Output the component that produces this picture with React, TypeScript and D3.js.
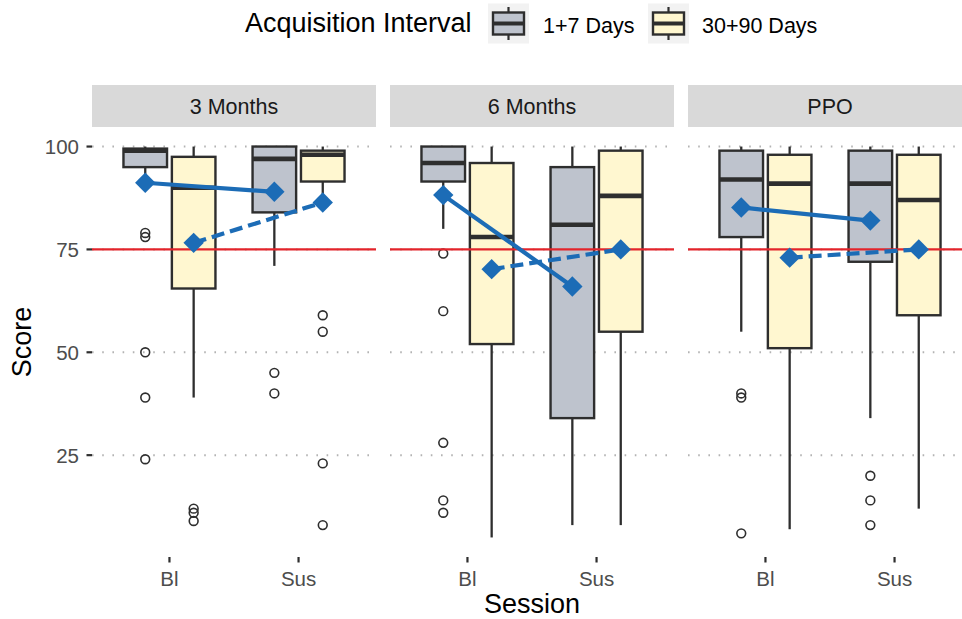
import React from "react";
import * as d3 from "d3";

// ---------- data ----------
const PANELS = ["3 Months", "6 Months", "PPO"];
const SESSIONS = ["Bl", "Sus"];
const GROUPS = ["1+7 Days", "30+90 Days"];
const Y_TICKS = [25, 50, 75, 100];
const THRESHOLD = 75;

// order: 3M-Bl, 3M-Sus, 6M-Bl, 6M-Sus, PPO-Bl, PPO-Sus
// group "1+7 Days"
const G1_LOW = [92, 71, 80, 8, 55, 34];
const G1_Q1 = [95, 84, 91.5, 34, 78, 72];
const G1_MED = [99, 97, 96, 81, 92, 91];
const G1_Q3 = [99.5, 100, 100, 95, 99, 99];
const G1_HIGH = [100, 100, 100, 100, 100, 100];
const G1_MEAN = [91.2, 89, 88.2, 66, 85.2, 82];
const G1_OUT = [[79, 78, 50, 39, 24], [45, 40], [74, 60, 28, 14, 11], [], [40, 39, 6], [20, 14, 8]];

// group "30+90 Days"
const G2_LOW = [39, 87, 5, 8, 7, 12];
const G2_Q1 = [65.5, 91.5, 52, 55, 51, 59];
const G2_MED = [90, 98, 78, 88, 91, 87];
const G2_Q3 = [97.5, 99, 96, 99, 98, 98];
const G2_HIGH = [100, 100, 100, 100, 100, 100];
const G2_MEAN = [76.6, 86.4, 70.2, 75, 73, 75];
const G2_OUT = [[12, 11, 9], [59, 55, 23, 8], [], [], [], []];

// ---------- styling / layout ----------
const W = 962, H = 619;
const FONT = "'Liberation Sans', Arial, Helvetica, sans-serif";
const FILLS = ["#bec3cd", "#fff7d0"];
const BLUE = "#1c6cb6";
const RED = "#e3242b";
const LINE = "#2e2e2e";
const PANEL_X0 = [92, 390, 688];
const PANEL_W = 284;
const PLOT_TOP = 127, PLOT_BOTTOM = 557;
const STRIP_TOP = 85;

const groupStats = [
  { low: G1_LOW, q1: G1_Q1, med: G1_MED, q3: G1_Q3, high: G1_HIGH, mean: G1_MEAN, out: G1_OUT },
  { low: G2_LOW, q1: G2_Q1, med: G2_MED, q3: G2_Q3, high: G2_HIGH, mean: G2_MEAN, out: G2_OUT },
];

export default function App() {
  const y = d3.scaleLinear().domain([0.25, 104.75]).range([PLOT_BOTTOM, PLOT_TOP]);

  const panels = PANELS.map((p, pi) => {
    const x0 = PANEL_X0[pi];
    const x = d3.scalePoint<string>().domain(SESSIONS).range([x0, x0 + PANEL_W]).padding(0.6);
    const step = x.step();
    const dodge = d3.scaleBand<string>().domain(GROUPS).range([-0.375 * step, 0.375 * step]);
    const bw = dodge.bandwidth() * 0.9;
    const cx = (s: string, g: string) => (x(s) as number) + (dodge(g) as number) + dodge.bandwidth() / 2;

    const gridLines = Y_TICKS.map((t) => (
      <line key={"g" + t} x1={x0} x2={x0 + PANEL_W} y1={y(t)} y2={y(t)}
        stroke="#b3b3b3" strokeWidth={2} strokeDasharray="1.6,8.6" />
    ));

    const boxes: React.ReactNode[] = [];
    GROUPS.forEach((g, gi) => {
      const st = groupStats[gi];
      SESSIONS.forEach((s, si) => {
        const k = pi * 2 + si;
        const c = cx(s, g);
        boxes.push(
          <g key={`b${gi}${si}`}>
            <line x1={c} x2={c} y1={y(st.high[k])} y2={y(st.q3[k])} stroke={LINE} strokeWidth={2.3} />
            <line x1={c} x2={c} y1={y(st.q1[k])} y2={y(st.low[k])} stroke={LINE} strokeWidth={2.3} />
            <rect x={c - bw / 2} y={y(st.q3[k])} width={bw} height={y(st.q1[k]) - y(st.q3[k])}
              fill={FILLS[gi]} stroke={LINE} strokeWidth={2.4} />
            <line x1={c - bw / 2} x2={c + bw / 2} y1={y(st.med[k])} y2={y(st.med[k])} stroke={LINE} strokeWidth={4.6} />
            {st.out[k].map((o, oi) => (
              <circle key={oi} cx={c} cy={y(o)} r={4.4} fill="none" stroke={LINE} strokeWidth={1.6} />
            ))}
          </g>
        );
      });
    });

    const means: React.ReactNode[] = [];
    GROUPS.forEach((g, gi) => {
      const st = groupStats[gi];
      const pts = SESSIONS.map((s, si) => [cx(s, g), y(st.mean[pi * 2 + si])] as [number, number]);
      const path = d3.line()(pts) as string;
      means.push(
        <path key={"l" + gi} d={path} fill="none" stroke={BLUE} strokeWidth={4.2}
          strokeDasharray={gi === 1 ? "13,6" : undefined} />
      );
    });
    GROUPS.forEach((g, gi) => {
      const st = groupStats[gi];
      SESSIONS.forEach((s, si) => {
        const c = cx(s, g);
        const yy = y(st.mean[pi * 2 + si]);
        const r = 10.2;
        means.push(
          <path key={`d${gi}${si}`} d={`M${c},${yy - r}L${c + r},${yy}L${c},${yy + r}L${c - r},${yy}Z`} fill={BLUE} />
        );
      });
    });

    return (
      <g key={p}>
        <rect x={x0} y={STRIP_TOP} width={PANEL_W} height={PLOT_TOP - STRIP_TOP} fill="#d9d9d9" />
        <text x={x0 + PANEL_W / 2} y={114} textAnchor="middle" fontSize={21.5} fill="#1a1a1a">{p}</text>
        {gridLines}
        {boxes}
        <line x1={x0} x2={x0 + PANEL_W} y1={y(THRESHOLD)} y2={y(THRESHOLD)} stroke={RED} strokeWidth={2.2} />
        {means}
        {SESSIONS.map((s) => (
          <g key={"xt" + s}>
            <line x1={x(s)} x2={x(s)} y1={PLOT_BOTTOM} y2={PLOT_BOTTOM + 5.5} stroke={LINE} strokeWidth={2.2} />
            <text x={x(s)} y={586} textAnchor="middle" fontSize={20.5} fill="#4d4d4d">{s}</text>
          </g>
        ))}
      </g>
    );
  });

  const legendKeys = [
    { bg: 488, text: 543 },
    { bg: 648, text: 702 },
  ];

  return (
    <svg width={W} height={H} style={{ position: "absolute", left: 0, top: 0, fontFamily: FONT }}>
      <rect width={W} height={H} fill="#ffffff" />
      {/* legend */}
      <text x={245} y={32} fontSize={27} fill="#000">Acquisition Interval</text>
      {GROUPS.map((g, gi) => {
        const k = legendKeys[gi];
        const c = k.bg + 20.5;
        return (
          <g key={"lg" + g}>
            <rect x={k.bg} y={3.5} width={41} height={40} fill="#f2f2f2" />
            <line x1={c} x2={c} y1={7} y2={40} stroke={LINE} strokeWidth={2.2} />
            <rect x={c - 15.5} y={12.5} width={31} height={22} fill={FILLS[gi]} stroke={LINE} strokeWidth={2.4} />
            <line x1={c - 15.5} x2={c + 15.5} y1={23.5} y2={23.5} stroke={LINE} strokeWidth={4} />
            <text x={k.text} y={33} fontSize={21.5} fill="#000">{g}</text>
          </g>
        );
      })}
      {/* y axis */}
      {Y_TICKS.map((t) => (
        <g key={"yt" + t}>
          <line x1={86.5} x2={PANEL_X0[0]} y1={y(t)} y2={y(t)} stroke={LINE} strokeWidth={2.2} />
          <text x={79} y={y(t)} dy="0.36em" textAnchor="end" fontSize={20.5} fill="#4d4d4d">{t}</text>
        </g>
      ))}
      <text transform={`translate(31,${(PLOT_TOP + PLOT_BOTTOM) / 2}) rotate(-90)`} textAnchor="middle" fontSize={27} fill="#000">Score</text>
      {panels}
      <text x={(PANEL_X0[0] + PANEL_X0[2] + PANEL_W) / 2} y={613} textAnchor="middle" fontSize={27} fill="#000">Session</text>
    </svg>
  );
}
